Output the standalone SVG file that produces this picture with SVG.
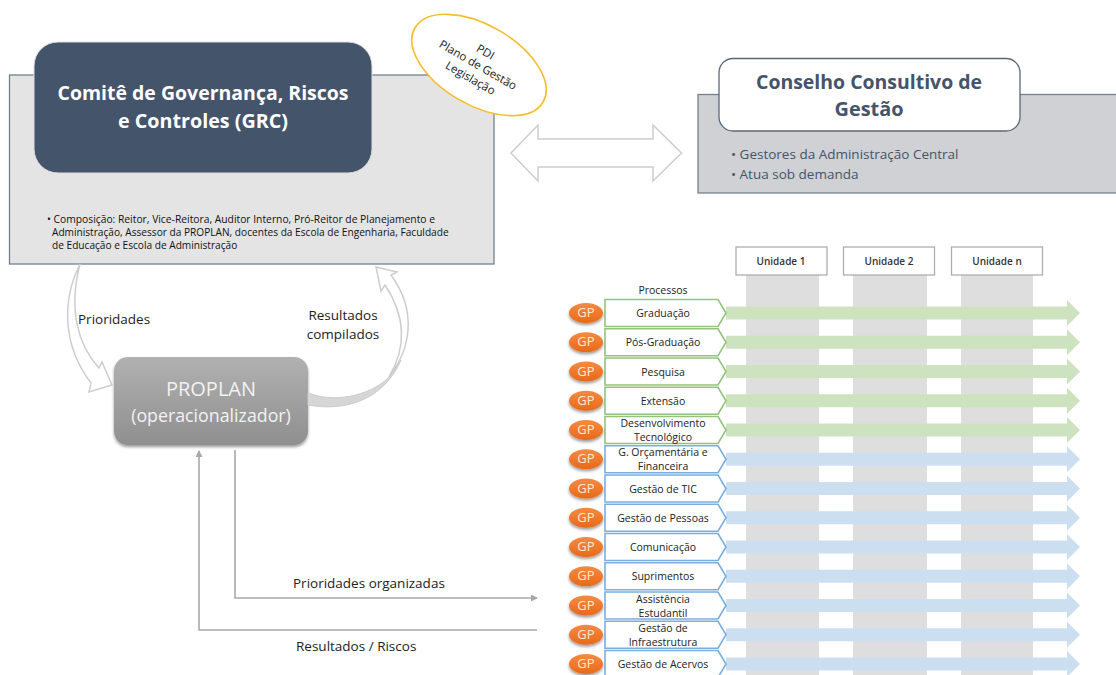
<svg xmlns="http://www.w3.org/2000/svg" xmlns:xlink="http://www.w3.org/1999/xlink" width="1116" height="675" viewBox="0 0 1116 675">
<style>
text{font-family:"Open Sans","Noto Sans","Liberation Sans",sans-serif}
.c{text-anchor:middle}
.t{font-size:10.5px;fill:#222}
.lab{font-size:13.5px;fill:#222}
.gp{font-size:13px;fill:#ffe9d8;text-anchor:middle}
.u{font-size:10px;font-weight:600;fill:#333;text-anchor:middle}
.col{fill:#dedede}
.gb{fill:#cde3bf}.bb{fill:#cbdff1}
.gc{fill:#fff;stroke:#92c47a;stroke-width:1.6}
.bc{fill:#fff;stroke:#79aee0;stroke-width:1.6}
.ub{fill:#fff;stroke:#aeaeae;stroke-width:1.3}
.ln{fill:none;stroke:#a9a9a9;stroke-width:1.6}
.cur{fill:#fff;stroke:#cdcdcd;stroke-width:1.5}
</style>
<defs>
<linearGradient id="og" x1="0" y1="0" x2="0" y2="1"><stop offset="0" stop-color="#f58a42"/><stop offset="1" stop-color="#e8691a"/></linearGradient>
<linearGradient id="pg" x1="0" y1="0" x2="0" y2="1"><stop offset="0" stop-color="#b1b1b1"/><stop offset="1" stop-color="#8f8f8f"/></linearGradient>
<filter id="sh" x="-20%" y="-20%" width="140%" height="150%"><feDropShadow dx="0" dy="2" stdDeviation="1.5" flood-color="#000" flood-opacity=".4"/></filter>
<path id="chev" d="M605 -13.500H718L726 0L718 13.500H605Z"/>
<path id="bar" d="M726 -6.500H1067V-13L1080 0L1067 13V6.500H726Z"/>
<ellipse id="gpe" cx="586" cy="0" rx="17" ry="10" fill="url(#og)" filter="url(#sh)"/>
<marker id="ah" markerWidth="7" markerHeight="7" refX="6" refY="3.500" orient="auto" markerUnits="userSpaceOnUse"><path d="M0 0L7 3.500L0 7Z" fill="#a9a9a9"/></marker>
</defs>

<g id="grc-panel"><rect x="9.500" y="75" width="484.500" height="189" fill="#e4e4e4" stroke="#73808f" stroke-width="1.300"/>
<text x="47" y="223" font-size="10.300" fill="#111">• Composição: Reitor, Vice-Reitora, Auditor Interno, Pró-Reitor de Planejamento e</text>
<text x="52" y="236" font-size="10.150" fill="#111">Administração, Assessor da PROPLAN, docentes da Escola de Engenharia, Faculdade</text>
<text x="52" y="249" font-size="10.150" fill="#111">de Educação e Escola de Administração</text></g>
<g id="grc"><rect x="34" y="42" width="338" height="131" rx="24" fill="#44546a" stroke="#dedede" stroke-width="1"/>
<text class="c" x="203" y="100" font-size="20" font-weight="700" fill="#fff" textLength="291" lengthAdjust="spacingAndGlyphs">Comitê de Governança, Riscos</text>
<text class="c" x="203" y="127.500" font-size="20" font-weight="700" fill="#fff" textLength="170" lengthAdjust="spacingAndGlyphs">e Controles (GRC)</text></g>
<g id="pdi"><ellipse cx="479" cy="65" rx="74" ry="40" transform="rotate(30 479 65)" fill="#fff" stroke="#f5bd2c" stroke-width="1.600"/>
<g transform="rotate(30 478 65)" font-size="11.500" fill="#222" text-anchor="middle"><text x="478" y="54">PDI</text><text x="478" y="69">Plano de Gestão</text><text x="478" y="84">Legislação</text></g></g>

<g id="conselho-panel"><rect x="698" y="94.500" width="430" height="98.500" fill="#cfd1d5" stroke="#73808f" stroke-width="1.300"/>
<text x="731" y="159" font-size="13.500" fill="#44546a">• Gestores da Administração Central</text>
<text x="731" y="179" font-size="13.500" fill="#44546a">• Atua sob demanda</text></g>
<g id="conselho"><rect x="719" y="58.500" width="301" height="72.500" rx="14" fill="#fff" stroke="#5a6779" stroke-width="1.300"/>
<text class="c" x="869" y="88.500" font-size="20" font-weight="700" fill="#44546a" textLength="226" lengthAdjust="spacingAndGlyphs">Conselho Consultivo de</text>
<text class="c" x="869" y="116" font-size="20" font-weight="700" fill="#44546a" textLength="69" lengthAdjust="spacingAndGlyphs">Gestão</text></g>

<g id="proplan"><rect x="114" y="357" width="194" height="88" rx="14" fill="url(#pg)" filter="url(#sh)"/>
<text class="c" x="211" y="396" font-size="20" fill="#f2f2f2">PROPLAN</text>
<text class="c" x="211" y="422" font-size="17.800" fill="#f2f2f2">(operacionalizador)</text></g>

<g id="connectors">
<path class="cur" d="M511 153L538 125V139H653V125L681.500 153L653 181V167H538V181Z"/>
<path class="cur" d="M80 264C62 300 62 345 91 383L89 392L112 385L102 362L99 368C78 345 68 310 80 264Z"/>
<path d="M308 393C340 405 375 392 389 377L401 360C384 400 345 412 308 405Z" fill="#d6d6d6" stroke="#cdcdcd" stroke-width="1"/>
<path class="cur" d="M389 377C410 350 418 312 391 275L397 272L376 267L381 291L385 285C405 315 408 345 389 377Z"/>
<path class="ln" d="M235 450V598H537" marker-end="url(#ah)"/>
<path class="ln" d="M537 630H199V451" marker-end="url(#ah)"/>
<text class="lab" x="78" y="324">Prioridades</text>
<text class="lab c" x="343" y="320">Resultados</text>
<text class="lab c" x="343" y="339">compilados</text>
<text class="lab" x="293" y="588">Prioridades organizadas</text>
<text class="lab" x="296" y="651">Resultados / Riscos</text>
</g>

<g id="columns"><rect class="col" x="746" y="275" width="73" height="400"/><rect class="col" x="853" y="275" width="74" height="400"/><rect class="col" x="961" y="275" width="72" height="400"/></g>
<g id="unidade-1"><rect class="ub" x="736" y="247" width="91" height="28"/><text class="u" x="781" y="265">Unidade 1</text></g>
<g id="unidade-2"><rect class="ub" x="843.500" y="247" width="91" height="28"/><text class="u" x="889" y="265">Unidade 2</text></g>
<g id="unidade-n"><rect class="ub" x="951.500" y="247" width="91" height="28"/><text class="u" x="997" y="265">Unidade n</text></g>
<text class="t c" x="663" y="294">Processos</text>

<g id="p1" transform="translate(0 313)"><use href="#bar" class="gb"/><use href="#chev" class="gc"/><use href="#gpe"/><text class="gp" x="586" y="4">GP</text><text class="t c" x="663" y="4">Graduação</text></g>
<g id="p2" transform="translate(0 342.250)"><use href="#bar" class="gb"/><use href="#chev" class="gc"/><use href="#gpe"/><text class="gp" x="586" y="4">GP</text><text class="t c" x="663" y="4">Pós-Graduação</text></g>
<g id="p3" transform="translate(0 371.500)"><use href="#bar" class="gb"/><use href="#chev" class="gc"/><use href="#gpe"/><text class="gp" x="586" y="4">GP</text><text class="t c" x="663" y="4">Pesquisa</text></g>
<g id="p4" transform="translate(0 400.750)"><use href="#bar" class="gb"/><use href="#chev" class="gc"/><use href="#gpe"/><text class="gp" x="586" y="4">GP</text><text class="t c" x="663" y="4">Extensão</text></g>
<g id="p5" transform="translate(0 430)"><use href="#bar" class="gb"/><use href="#chev" class="gc"/><use href="#gpe"/><text class="gp" x="586" y="4">GP</text><text class="t c" x="663" y="-3">Desenvolvimento</text><text class="t c" x="663" y="11">Tecnológico</text></g>
<g id="p6" transform="translate(0 459.250)"><use href="#bar" class="bb"/><use href="#chev" class="bc"/><use href="#gpe"/><text class="gp" x="586" y="4">GP</text><text class="t c" x="663" y="-3">G. Orçamentária e</text><text class="t c" x="663" y="11">Financeira</text></g>
<g id="p7" transform="translate(0 488.500)"><use href="#bar" class="bb"/><use href="#chev" class="bc"/><use href="#gpe"/><text class="gp" x="586" y="4">GP</text><text class="t c" x="663" y="4">Gestão de TIC</text></g>
<g id="p8" transform="translate(0 517.750)"><use href="#bar" class="bb"/><use href="#chev" class="bc"/><use href="#gpe"/><text class="gp" x="586" y="4">GP</text><text class="t c" x="663" y="4">Gestão de Pessoas</text></g>
<g id="p9" transform="translate(0 547)"><use href="#bar" class="bb"/><use href="#chev" class="bc"/><use href="#gpe"/><text class="gp" x="586" y="4">GP</text><text class="t c" x="663" y="4">Comunicação</text></g>
<g id="p10" transform="translate(0 576.250)"><use href="#bar" class="bb"/><use href="#chev" class="bc"/><use href="#gpe"/><text class="gp" x="586" y="4">GP</text><text class="t c" x="663" y="4">Suprimentos</text></g>
<g id="p11" transform="translate(0 605.500)"><use href="#bar" class="bb"/><use href="#chev" class="bc"/><use href="#gpe"/><text class="gp" x="586" y="4">GP</text><text class="t c" x="663" y="-3">Assistência</text><text class="t c" x="663" y="11">Estudantil</text></g>
<g id="p12" transform="translate(0 634.750)"><use href="#bar" class="bb"/><use href="#chev" class="bc"/><use href="#gpe"/><text class="gp" x="586" y="4">GP</text><text class="t c" x="663" y="-3">Gestão de</text><text class="t c" x="663" y="11">Infraestrutura</text></g>
<g id="p13" transform="translate(0 664)"><use href="#bar" class="bb"/><use href="#chev" class="bc"/><use href="#gpe"/><text class="gp" x="586" y="4">GP</text><text class="t c" x="663" y="4">Gestão de Acervos</text></g>
</svg>
